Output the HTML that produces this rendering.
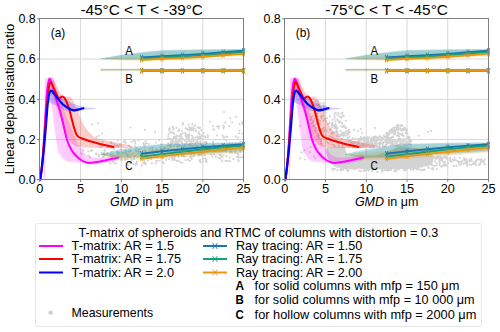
<!DOCTYPE html>
<html><head><meta charset="utf-8"><style>html,body{margin:0;padding:0;background:#fff;width:500px;height:332px;overflow:hidden}svg{display:block}</style></head>
<body>
<svg width="500" height="332" viewBox="0 0 500 332" font-family="Liberation Sans, sans-serif" fill="#000">
<rect width="500" height="332" fill="#fff"/>
<line x1="80.48" y1="18.5" x2="80.48" y2="179.5" stroke="#d9d9d9" stroke-width="1"/>
<line x1="121.26" y1="18.5" x2="121.26" y2="179.5" stroke="#d9d9d9" stroke-width="1"/>
<line x1="162.04" y1="18.5" x2="162.04" y2="179.5" stroke="#d9d9d9" stroke-width="1"/>
<line x1="202.82" y1="18.5" x2="202.82" y2="179.5" stroke="#d9d9d9" stroke-width="1"/>
<line x1="39.7" y1="139.55" x2="243.6" y2="139.55" stroke="#d9d9d9" stroke-width="1"/>
<line x1="39.7" y1="99.30" x2="243.6" y2="99.30" stroke="#d9d9d9" stroke-width="1"/>
<line x1="39.7" y1="59.05" x2="243.6" y2="59.05" stroke="#d9d9d9" stroke-width="1"/>
<path d="M164.7,155.0h0M232.2,152.6h0M172.6,155.7h0M126.4,153.8h0M190.1,160.8h0M113.0,161.2h0M193.5,156.4h0M104.3,152.6h0M163.0,162.1h0M174.2,157.0h0M171.5,157.6h0M165.4,148.0h0M220.2,158.7h0M209.6,151.0h0M221.1,150.7h0M230.2,152.7h0M240.2,150.9h0M110.4,156.7h0M211.3,147.7h0M237.9,160.0h0M214.0,145.4h0M180.0,152.2h0M127.3,159.3h0M118.7,157.1h0M116.7,151.5h0M238.8,161.1h0M143.5,163.1h0M130.1,150.9h0M222.2,157.0h0M210.5,149.2h0M112.9,155.6h0M134.8,156.0h0M153.2,152.3h0M237.2,153.1h0M182.2,162.7h0M229.9,161.4h0M128.1,164.8h0M226.2,156.1h0M134.1,158.6h0M136.7,161.6h0M185.3,148.3h0M125.1,159.0h0M180.0,162.3h0M187.8,148.0h0M231.2,146.1h0M125.2,150.2h0M151.8,163.3h0M240.2,157.4h0M198.8,155.6h0M103.0,156.9h0M169.0,159.3h0M110.8,154.7h0M205.4,158.6h0M150.3,158.1h0M159.7,160.8h0M223.5,155.3h0M189.4,150.6h0M183.3,156.2h0M111.5,157.0h0M204.1,150.7h0M205.1,155.5h0M163.0,162.0h0M112.0,159.8h0M104.3,156.0h0M199.9,153.4h0M143.0,158.0h0M229.5,157.5h0M163.2,163.3h0M146.8,157.6h0M128.4,151.8h0M225.9,150.6h0M183.4,148.9h0M119.5,153.4h0M164.4,147.9h0M130.6,151.3h0M189.5,153.3h0M145.1,162.0h0M240.4,152.3h0M201.3,155.3h0M144.2,160.8h0M218.6,146.9h0M190.0,152.2h0M190.1,157.4h0M197.9,146.0h0M101.5,152.8h0M202.1,145.5h0M138.9,149.6h0M199.7,154.0h0M187.9,159.9h0M156.3,160.8h0M229.6,143.2h0M233.4,159.1h0M118.6,152.3h0M153.9,155.2h0M225.7,160.9h0M235.0,152.6h0M193.1,146.1h0M203.2,161.5h0M191.8,158.9h0M130.5,163.5h0M176.8,160.8h0M145.8,163.7h0M222.4,149.7h0M111.8,152.0h0M178.7,160.2h0M214.4,145.3h0M147.9,160.7h0M173.9,159.1h0M220.1,158.2h0M235.2,153.3h0M235.7,143.2h0M131.7,154.2h0M141.5,159.2h0M191.4,154.1h0M220.6,155.0h0M144.6,150.5h0M129.8,162.3h0M238.5,154.1h0M181.9,146.0h0M176.6,153.6h0M238.6,153.9h0M157.3,161.0h0M180.5,153.3h0M177.0,151.3h0M138.5,152.8h0M118.2,151.8h0M168.1,148.9h0M127.4,156.4h0M232.3,144.2h0M198.2,149.1h0M150.8,156.5h0M115.0,159.3h0M117.6,153.8h0M175.8,151.9h0M153.7,151.3h0M129.2,156.8h0M191.3,154.2h0M221.7,156.3h0M222.5,146.8h0M205.9,161.3h0M229.1,148.9h0M145.0,164.1h0M226.9,144.3h0M134.2,159.2h0M219.0,151.5h0M213.0,144.2h0M157.6,158.1h0M238.5,143.9h0M172.3,160.0h0M171.9,158.1h0M178.9,153.9h0M232.5,143.4h0M166.1,160.1h0M146.7,152.7h0M173.7,151.8h0M200.2,162.1h0M125.9,152.3h0M205.7,151.1h0M227.7,161.0h0M200.8,162.5h0M190.0,151.1h0M185.7,153.6h0M136.9,163.8h0M206.5,160.4h0M216.5,151.1h0M199.4,160.2h0M209.4,151.1h0M148.9,152.7h0M191.3,156.6h0M133.2,164.6h0M195.3,149.4h0M194.3,155.2h0M176.2,150.7h0M243.0,157.1h0M200.3,160.0h0M240.2,141.6h0M188.0,159.5h0M136.7,151.0h0M135.9,163.6h0M178.7,153.7h0M238.3,155.2h0M242.3,157.0h0M185.4,160.0h0M122.9,152.8h0M124.2,153.4h0M235.2,151.5h0M175.3,155.9h0M152.3,148.1h0M193.7,155.0h0M140.5,158.9h0M122.4,159.9h0M155.8,163.4h0M110.5,163.6h0M161.4,152.9h0M239.2,147.1h0M203.4,152.7h0M189.3,152.4h0M163.3,157.7h0M165.1,147.6h0M183.3,151.5h0M211.2,154.3h0M205.0,147.0h0M116.3,163.3h0M212.2,156.6h0M198.0,155.1h0M184.6,156.8h0M207.7,145.7h0M135.6,165.5h0M138.7,151.6h0M112.4,157.9h0M178.7,156.8h0M153.4,153.0h0M130.1,149.6h0M206.5,162.0h0M215.7,156.6h0M209.9,146.3h0M160.7,147.5h0M215.8,150.2h0M146.5,154.7h0M161.2,150.2h0M113.9,162.9h0M180.7,153.1h0M198.0,148.5h0M130.5,157.6h0M203.7,158.3h0M151.2,159.1h0M201.4,155.2h0M230.6,151.9h0M214.8,148.6h0M145.4,151.0h0M135.5,150.0h0M152.3,150.1h0M156.6,150.7h0M127.9,155.1h0M214.0,154.5h0M219.6,155.1h0M125.3,160.0h0M226.0,148.0h0M103.2,153.9h0M177.8,155.2h0M238.2,157.3h0M178.2,160.7h0M112.1,156.9h0M120.6,159.6h0M192.8,147.1h0M131.5,160.1h0M174.6,160.1h0M156.4,149.4h0M238.5,157.8h0M170.6,154.4h0M203.1,158.7h0M230.8,151.3h0M218.2,157.7h0M222.1,161.1h0M237.0,157.0h0M174.9,158.8h0M214.7,151.5h0M129.2,151.6h0M141.8,165.2h0M116.4,157.2h0M197.8,127.3h0M168.6,134.0h0M189.9,144.8h0M173.6,128.2h0M175.7,140.2h0M190.4,128.4h0M173.6,129.7h0M173.1,141.2h0M178.8,136.2h0M199.5,134.5h0M176.7,144.3h0M188.4,146.0h0M185.8,128.3h0M198.9,132.2h0M187.6,135.4h0M177.3,146.8h0M193.0,128.7h0M181.2,142.1h0M195.2,137.5h0M172.4,126.8h0M179.2,129.2h0M201.6,135.4h0M192.1,146.8h0M176.9,135.8h0M172.2,141.5h0M200.7,142.7h0M169.4,129.5h0M195.4,125.3h0M185.7,134.2h0M205.2,137.1h0M201.2,130.3h0M198.4,133.0h0M199.9,128.0h0M188.3,135.6h0M172.5,143.0h0M178.8,130.5h0M169.1,130.3h0M185.2,140.2h0M180.7,139.5h0M170.3,132.5h0M184.9,146.2h0M200.0,138.7h0M195.1,128.7h0M189.1,134.0h0M198.8,128.0h0M191.3,130.0h0M181.4,136.0h0M178.2,131.1h0M182.1,139.0h0M176.5,127.8h0M196.0,130.9h0M204.7,136.5h0M195.7,131.0h0M193.8,140.0h0M173.4,132.7h0M200.3,137.2h0M169.7,128.4h0M182.7,124.7h0M203.7,133.2h0M187.0,138.5h0M197.4,142.7h0M181.8,131.0h0M182.9,123.4h0M182.4,139.8h0M206.3,142.0h0M193.1,137.6h0M180.0,138.6h0M170.4,132.1h0M186.9,141.9h0M199.8,137.7h0M172.5,141.4h0M203.0,136.2h0M180.5,135.0h0M171.8,140.1h0M195.3,143.1h0M174.1,145.7h0M191.7,127.7h0M169.4,128.9h0M189.6,139.7h0M179.5,145.3h0M180.8,134.1h0M171.1,146.4h0M171.6,144.7h0M188.3,136.5h0M189.0,129.3h0M203.3,146.8h0M199.5,137.4h0M171.0,142.8h0M177.8,144.5h0M175.9,136.8h0M200.1,127.5h0M188.5,124.8h0M193.0,130.4h0M193.5,140.7h0M181.6,137.2h0M174.2,134.2h0M171.9,132.3h0M189.4,127.2h0M187.3,129.3h0M189.3,131.0h0M192.3,123.9h0M193.5,126.5h0M205.3,137.4h0M185.3,132.9h0M191.6,139.5h0M197.1,141.0h0M185.9,146.9h0M200.4,143.5h0M182.8,133.4h0M189.2,144.7h0M189.1,141.3h0M185.0,145.9h0M180.1,135.7h0M197.9,145.8h0M198.2,142.2h0M199.1,138.7h0M192.1,135.8h0M171.5,140.4h0M188.1,139.8h0M168.3,143.3h0M189.2,137.9h0M179.5,139.7h0M176.4,135.8h0M206.1,146.6h0M195.3,145.4h0M184.5,144.7h0M175.8,144.0h0M190.9,145.8h0M170.3,144.5h0M171.4,141.5h0M207.8,135.0h0M176.7,138.6h0M180.3,135.8h0M205.4,144.8h0M183.5,139.3h0M191.8,135.6h0M167.4,145.8h0M179.5,141.0h0M207.1,146.7h0M186.8,137.5h0M179.0,146.1h0M205.5,137.3h0M202.9,139.2h0M186.8,137.1h0M204.7,146.9h0M174.9,142.6h0M174.4,145.6h0M168.2,136.3h0M197.9,138.8h0M205.6,145.4h0M197.4,136.6h0M196.6,146.3h0M185.6,135.9h0M175.8,138.7h0M197.3,137.4h0M174.0,137.8h0M195.2,144.5h0M182.4,142.9h0M204.9,142.1h0M176.1,138.6h0M206.8,143.0h0M178.2,142.7h0M170.0,146.8h0M185.4,141.3h0M189.4,135.5h0M192.4,138.4h0M177.0,144.6h0M169.8,138.4h0M199.2,138.0h0M178.3,141.6h0M174.2,145.8h0M186.3,144.0h0M182.9,146.2h0M188.0,137.2h0M190.5,142.7h0M181.8,142.9h0M200.5,141.2h0M188.2,145.1h0M196.1,141.2h0M207.9,137.1h0M200.3,137.0h0M192.8,137.8h0M185.4,144.3h0M200.6,144.5h0M176.4,140.9h0M175.7,142.0h0M188.0,135.4h0M192.3,143.6h0M191.2,145.5h0M173.9,136.8h0M185.1,140.3h0M177.6,144.6h0M169.2,145.9h0M191.0,141.5h0M200.8,137.9h0M172.4,138.7h0M167.9,138.8h0M193.3,141.3h0M177.6,142.1h0M169.9,144.8h0M217.3,126.4h0M217.0,135.5h0M237.8,137.5h0M213.9,129.6h0M223.3,125.5h0M242.1,121.9h0M227.2,137.0h0M242.6,124.0h0M226.1,136.6h0M213.2,126.1h0M239.6,124.0h0M224.2,127.3h0M225.2,122.6h0M213.1,141.9h0M235.7,136.4h0M219.1,126.3h0M229.1,126.1h0M226.3,140.6h0M223.3,128.1h0M242.4,133.8h0M213.2,129.5h0M232.1,122.2h0M222.6,135.6h0M238.8,133.4h0M239.5,130.7h0M224.2,138.7h0M223.8,137.4h0M218.7,128.3h0M111.9,146.6h0M110.7,142.4h0M113.9,145.6h0M120.1,145.4h0M164.6,148.2h0M156.1,142.5h0M124.9,140.9h0M144.9,144.4h0M117.8,140.2h0M111.8,143.1h0M125.5,151.1h0M146.5,143.2h0M123.5,141.8h0M160.9,144.3h0M149.8,148.7h0M159.0,140.2h0M120.9,144.6h0M105.4,150.6h0M121.1,149.2h0M133.8,140.7h0M125.6,142.9h0M102.7,141.8h0M138.7,140.4h0M120.3,145.1h0M135.4,141.6h0M135.3,143.6h0M136.3,147.7h0M114.0,148.1h0M120.3,144.9h0M143.3,143.3h0M114.6,144.4h0M101.2,147.3h0M148.8,144.0h0M110.8,147.9h0M143.4,143.3h0M131.6,141.9h0M121.4,144.9h0M116.4,146.0h0M120.1,145.8h0M108.3,147.7h0M117.1,145.2h0M107.5,146.8h0M135.1,146.5h0M119.6,144.6h0M102.7,146.0h0M129.3,145.7h0M144.6,146.7h0M113.1,147.7h0M109.3,145.7h0M118.1,146.8h0M131.4,147.2h0M120.5,145.2h0M113.8,149.3h0M144.0,144.8h0M145.5,141.4h0M80.8,153.1h0M88.3,151.6h0M83.3,150.3h0M104.2,150.3h0M91.9,150.4h0M96.2,154.5h0M98.6,154.2h0M99.1,156.3h0M116.7,151.3h0M89.9,156.9h0M88.5,155.2h0M104.9,154.9h0M81.9,154.2h0M96.1,153.6h0M90.9,150.9h0M107.2,153.3h0M130.5,127.5h0M145.0,130.0h0M155.0,132.0h0M209.7,121.8h0M92.2,124.4h0M97.8,123.3h0M102.3,133.5h0M96.7,136.9h0M99.0,135.7h0M224.0,112.0h0M230.0,118.0h0M236.0,117.0h0" stroke="#d3d3d3" stroke-width="2.1" stroke-linecap="round" fill="none"/>
<g transform="translate(39.7,0) scale(1.0,1) translate(-39.7,0)">
<path d="M44.00,179.40 C44.10,167.83 44.43,126.57 44.60,110.00 C44.77,93.43 44.68,85.28 45.00,80.00 C45.32,74.72 45.17,78.58 46.50,78.30 C47.83,78.02 51.50,77.35 53.00,78.30 C54.50,79.25 54.67,81.22 55.50,84.00 C56.33,86.78 56.58,90.67 58.00,95.00 C59.42,99.33 62.00,105.00 64.00,110.00 C66.00,115.00 67.73,119.50 70.00,125.00 C72.27,130.50 75.43,138.83 77.60,143.00 C79.77,147.17 81.43,147.92 83.00,150.00 C84.57,152.08 85.00,154.25 87.00,155.50 C89.00,156.75 91.68,157.25 95.00,157.50 C98.32,157.75 103.07,157.33 106.90,157.00 C110.73,156.67 116.15,155.00 118.00,155.50 C119.85,156.00 121.00,158.62 118.00,160.00 C115.00,161.38 104.67,163.13 100.00,163.80 C95.33,164.47 93.50,164.20 90.00,164.00 C86.50,163.80 82.67,163.02 79.00,162.60 C75.33,162.18 70.67,162.18 68.00,161.50 C65.33,160.82 64.42,159.92 63.00,158.50 C61.58,157.08 60.38,154.42 59.50,153.00 C58.62,151.58 58.90,157.17 57.70,150.00 C56.50,142.83 53.50,119.17 52.30,110.00 C51.10,100.83 51.13,99.00 50.50,95.00 C49.87,91.00 49.08,86.00 48.50,86.00 C47.92,86.00 47.42,87.67 47.00,95.00 C46.58,102.33 46.33,115.93 46.00,130.00 C45.67,144.07 45.17,171.17 45.00,179.40Z" fill="#ff00ff" fill-opacity="0.2"/>
<path d="M47.00,100.00 C47.42,96.42 48.50,82.00 49.50,78.50 C50.50,75.00 51.75,77.58 53.00,79.00 C54.25,80.42 55.67,84.58 57.00,87.00 C58.33,89.42 59.75,91.92 61.00,93.50 C62.25,95.08 63.00,95.95 64.50,96.50 C66.00,97.05 68.58,96.13 70.00,96.80 C71.42,97.47 72.00,98.87 73.00,100.50 C74.00,102.13 75.00,104.35 76.00,106.60 C77.00,108.85 78.00,111.50 79.00,114.00 C80.00,116.50 80.73,119.10 82.00,121.60 C83.27,124.10 84.60,126.48 86.60,129.00 C88.60,131.52 91.10,134.87 94.00,136.70 C96.90,138.53 99.88,138.95 104.00,140.00 C108.12,141.05 114.20,142.08 118.70,143.00 C123.20,143.92 128.95,144.75 131.00,145.50 C133.05,146.25 133.17,147.08 131.00,147.50 C128.83,147.92 123.17,147.92 118.00,148.00 C112.83,148.08 105.50,148.08 100.00,148.00 C94.50,147.92 89.17,147.83 85.00,147.50 C80.83,147.17 77.83,147.58 75.00,146.00 C72.17,144.42 70.17,142.00 68.00,138.00 C65.83,134.00 63.83,127.00 62.00,122.00 C60.17,117.00 58.50,112.50 57.00,108.00 C55.50,103.50 54.17,98.67 53.00,95.00 C51.83,91.33 50.75,86.00 50.00,86.00 C49.25,86.00 48.75,93.50 48.50,95.00Z" fill="#ff0000" fill-opacity="0.2"/>
<path d="M47.50,102.00 C47.92,99.67 49.08,90.08 50.00,88.00 C50.92,85.92 51.67,88.42 53.00,89.50 C54.33,90.58 55.83,92.75 58.00,94.50 C60.17,96.25 63.17,98.33 66.00,100.00 C68.83,101.67 71.83,103.30 75.00,104.50 C78.17,105.70 81.42,106.55 85.00,107.20 C88.58,107.85 96.50,107.97 96.50,108.40 C96.50,108.83 88.58,109.23 85.00,109.80 C81.42,110.37 78.00,111.60 75.00,111.80 C72.00,112.00 69.50,111.63 67.00,111.00 C64.50,110.37 62.17,109.08 60.00,108.00 C57.83,106.92 55.67,105.33 54.00,104.50 C52.33,103.67 50.67,103.25 50.00,103.00Z" fill="#0000ff" fill-opacity="0.2"/>
<path d="M40.50,179.40 C40.83,176.67 41.88,170.40 42.50,163.00 C43.12,155.60 43.68,143.50 44.20,135.00 C44.72,126.50 45.10,119.50 45.60,112.00 C46.10,104.50 46.60,95.42 47.20,90.00 C47.80,84.58 48.57,81.00 49.20,79.50 C49.83,78.00 50.28,79.42 51.00,81.00 C51.72,82.58 52.58,85.83 53.50,89.00 C54.42,92.17 55.42,96.33 56.50,100.00 C57.58,103.67 58.92,107.17 60.00,111.00 C61.08,114.83 61.92,118.50 63.00,123.00 C64.08,127.50 65.50,134.33 66.50,138.00 C67.50,141.67 68.17,143.00 69.00,145.00 C69.83,147.00 70.58,148.50 71.50,150.00 C72.42,151.50 73.25,152.58 74.50,154.00 C75.75,155.42 77.30,157.18 79.00,158.50 C80.70,159.82 82.82,161.15 84.70,161.90 C86.58,162.65 87.75,163.07 90.30,163.00 C92.85,162.93 95.38,162.38 100.00,161.50 C104.62,160.62 115.00,158.33 118.00,157.70" fill="none" stroke="#ff00ff" stroke-width="2" stroke-linejoin="round" stroke-linecap="round"/>
<path d="M40.40,179.40 C40.67,177.00 41.48,170.23 42.00,165.00 C42.52,159.77 42.75,156.83 43.50,148.00 C44.25,139.17 45.65,121.67 46.50,112.00 C47.35,102.33 47.98,94.93 48.60,90.00 C49.22,85.07 49.60,83.32 50.20,82.40 C50.80,81.48 51.32,82.90 52.20,84.50 C53.08,86.10 54.45,89.67 55.50,92.00 C56.55,94.33 57.62,97.62 58.50,98.50 C59.38,99.38 60.05,97.62 60.80,97.30 C61.55,96.98 62.22,96.23 63.00,96.60 C63.78,96.97 64.45,97.33 65.50,99.50 C66.55,101.67 68.30,106.52 69.30,109.60 C70.30,112.68 70.63,114.77 71.50,118.00 C72.37,121.23 73.48,125.97 74.50,129.00 C75.52,132.03 76.08,134.53 77.60,136.20 C79.12,137.87 81.77,138.25 83.60,139.00 C85.43,139.75 86.02,139.92 88.60,140.70 C91.18,141.48 94.97,142.65 99.10,143.70 C103.23,144.75 111.02,146.45 113.40,147.00" fill="none" stroke="#ff0000" stroke-width="2" stroke-linejoin="round" stroke-linecap="round"/>
<path d="M40.30,179.40 C40.58,177.17 41.42,170.90 42.00,166.00 C42.58,161.10 43.13,156.83 43.80,150.00 C44.47,143.17 45.37,132.50 46.00,125.00 C46.63,117.50 47.07,110.17 47.60,105.00 C48.13,99.83 48.63,96.42 49.20,94.00 C49.77,91.58 50.28,90.67 51.00,90.50 C51.72,90.33 52.50,91.83 53.50,93.00 C54.50,94.17 55.42,95.58 57.00,97.50 C58.58,99.42 60.78,102.53 63.00,104.50 C65.22,106.47 68.47,108.33 70.30,109.30 C72.13,110.27 72.72,110.25 74.00,110.30 C75.28,110.35 76.45,109.95 78.00,109.60 C79.55,109.25 82.42,108.43 83.30,108.20" fill="none" stroke="#0000ff" stroke-width="2.2" stroke-linejoin="round" stroke-linecap="round"/>
</g>
<g transform="translate(39.7,0) scale(1.0000,1) translate(-39.7,0)">
<path d="M100.6,58.5 L120.0,55.0 L140.0,52.3 L163.0,50.0 L200.0,49.3 L243.6,49.0 L243.6,53.4 L200.0,56.8 L163.0,58.8 L140.0,59.2 L120.0,59.2 L100.6,58.9Z" fill="#1a75b0" fill-opacity="0.24"/>
<path d="M100.6,58.6 L120.0,55.5 L140.0,53.0 L163.0,50.8 L200.0,50.0 L243.6,49.6 L243.6,54.2 L200.0,57.6 L163.0,59.4 L140.0,59.8 L120.0,59.6 L100.6,59.1Z" fill="#17a07a" fill-opacity="0.24"/>
<path d="M100.6,58.7 L120.0,57.6 L140.0,56.6 L163.0,55.4 L200.0,53.8 L243.6,52.2 L243.6,55.8 L200.0,58.8 L163.0,60.4 L140.0,60.6 L120.0,60.3 L100.6,59.3Z" fill="#e8960f" fill-opacity="0.24"/>
<path d="M100.6,68.8 L120.0,68.8 L140.0,68.8 L163.0,68.8 L200.0,68.8 L243.6,68.8 L243.6,70.3 L200.0,70.3 L163.0,70.3 L140.0,70.3 L120.0,70.3 L100.6,70.3Z" fill="#1a75b0" fill-opacity="0.25"/>
<path d="M100.6,68.9 L120.0,68.9 L140.0,68.9 L163.0,68.9 L200.0,68.9 L243.6,68.9 L243.6,70.4 L200.0,70.4 L163.0,70.4 L140.0,70.4 L120.0,70.4 L100.6,70.4Z" fill="#17a07a" fill-opacity="0.25"/>
<path d="M100.6,70.2 L120.0,70.2 L140.0,70.2 L163.0,70.2 L200.0,70.2 L243.6,70.2 L243.6,71.2 L200.0,71.2 L163.0,71.2 L140.0,71.2 L120.0,71.2 L100.6,71.2Z" fill="#e8960f" fill-opacity="0.25"/>
<path d="M100.6,154.0 L120.0,149.3 L140.0,146.0 L163.0,143.8 L200.0,142.8 L243.6,142.2 L243.6,150.5 L200.0,153.5 L163.0,155.5 L140.0,157.0 L120.0,157.5 L100.6,154.8Z" fill="#1a75b0" fill-opacity="0.22"/>
<path d="M100.6,154.1 L120.0,151.3 L140.0,147.2 L163.0,144.5 L200.0,143.6 L243.6,143.0 L243.6,151.5 L200.0,154.5 L163.0,156.5 L140.0,158.0 L120.0,158.5 L100.6,155.0Z" fill="#17a07a" fill-opacity="0.22"/>
<path d="M100.6,154.2 L120.0,154.0 L140.0,151.0 L163.0,148.5 L200.0,147.0 L243.6,145.8 L243.6,152.3 L200.0,156.0 L163.0,158.5 L140.0,159.5 L120.0,159.5 L100.6,155.2Z" fill="#e8960f" fill-opacity="0.22"/>
</g>
<polyline points="141.6,57.5 162.0,56.3 182.4,55.3 202.8,53.9 223.2,52.3 243.6,50.7" fill="none" stroke="#1a75b0" stroke-width="1.9"/>
<path d="M140.3,54.9 L142.9,60.1 M142.9,54.9 L140.3,60.1 M160.7,53.7 L163.3,58.9 M163.3,53.7 L160.7,58.9 M181.1,52.7 L183.7,57.9 M183.7,52.7 L181.1,57.9 M201.5,51.3 L204.1,56.5 M204.1,51.3 L201.5,56.5 M221.9,49.7 L224.5,54.9 M224.5,49.7 L221.9,54.9 M242.3,48.1 L244.9,53.3 M244.9,48.1 L242.3,53.3 " stroke="#1a75b0" stroke-width="0.8" fill="none"/>
<polyline points="141.6,58.8 162.0,57.5 182.4,56.5 202.8,55.1 223.2,53.5 243.6,52.1" fill="none" stroke="#17a07a" stroke-width="1.9"/>
<path d="M140.3,56.2 L142.9,61.4 M142.9,56.2 L140.3,61.4 M160.7,54.9 L163.3,60.1 M163.3,54.9 L160.7,60.1 M181.1,53.9 L183.7,59.1 M183.7,53.9 L181.1,59.1 M201.5,52.5 L204.1,57.7 M204.1,52.5 L201.5,57.7 M221.9,50.9 L224.5,56.1 M224.5,50.9 L221.9,56.1 M242.3,49.5 L244.9,54.7 M244.9,49.5 L242.3,54.7 " stroke="#17a07a" stroke-width="0.8" fill="none"/>
<polyline points="141.6,60.0 162.0,58.8 182.4,58.1 202.8,56.7 223.2,55.3 243.6,53.9" fill="none" stroke="#e8960f" stroke-width="1.9"/>
<path d="M140.3,57.4 L142.9,62.6 M142.9,57.4 L140.3,62.6 M160.7,56.2 L163.3,61.4 M163.3,56.2 L160.7,61.4 M181.1,55.5 L183.7,60.7 M183.7,55.5 L181.1,60.7 M201.5,54.1 L204.1,59.3 M204.1,54.1 L201.5,59.3 M221.9,52.7 L224.5,57.9 M224.5,52.7 L221.9,57.9 M242.3,51.3 L244.9,56.5 M244.9,51.3 L242.3,56.5 " stroke="#e8960f" stroke-width="0.8" fill="none"/>
<polyline points="141.6,70.7 162.0,70.7 182.4,70.7 202.8,70.7 223.2,70.7 243.6,70.7" fill="none" stroke="#1a75b0" stroke-width="1.9"/>
<path d="M140.3,68.1 L142.9,73.3 M142.9,68.1 L140.3,73.3 M160.7,68.1 L163.3,73.3 M163.3,68.1 L160.7,73.3 M181.1,68.1 L183.7,73.3 M183.7,68.1 L181.1,73.3 M201.5,68.1 L204.1,73.3 M204.1,68.1 L201.5,73.3 M221.9,68.1 L224.5,73.3 M224.5,68.1 L221.9,73.3 M242.3,68.1 L244.9,73.3 M244.9,68.1 L242.3,73.3 " stroke="#1a75b0" stroke-width="0.8" fill="none"/>
<polyline points="141.6,70.7 162.0,70.7 182.4,70.7 202.8,70.7 223.2,70.7 243.6,70.7" fill="none" stroke="#17a07a" stroke-width="1.9"/>
<path d="M140.3,68.1 L142.9,73.3 M142.9,68.1 L140.3,73.3 M160.7,68.1 L163.3,73.3 M163.3,68.1 L160.7,73.3 M181.1,68.1 L183.7,73.3 M183.7,68.1 L181.1,73.3 M201.5,68.1 L204.1,73.3 M204.1,68.1 L201.5,73.3 M221.9,68.1 L224.5,73.3 M224.5,68.1 L221.9,73.3 M242.3,68.1 L244.9,73.3 M244.9,68.1 L242.3,73.3 " stroke="#17a07a" stroke-width="0.8" fill="none"/>
<polyline points="141.6,70.7 162.0,70.7 182.4,70.7 202.8,70.7 223.2,70.7 243.6,70.7" fill="none" stroke="#e8960f" stroke-width="1.9"/>
<path d="M140.3,68.1 L142.9,73.3 M142.9,68.1 L140.3,73.3 M160.7,68.1 L163.3,73.3 M163.3,68.1 L160.7,73.3 M181.1,68.1 L183.7,73.3 M183.7,68.1 L181.1,73.3 M201.5,68.1 L204.1,73.3 M204.1,68.1 L201.5,73.3 M221.9,68.1 L224.5,73.3 M224.5,68.1 L221.9,73.3 M242.3,68.1 L244.9,73.3 M244.9,68.1 L242.3,73.3 " stroke="#e8960f" stroke-width="0.8" fill="none"/>
<polyline points="141.6,153.7 162.0,151.3 182.4,149.3 202.8,147.3 223.2,145.7 243.6,144.3" fill="none" stroke="#1a75b0" stroke-width="1.9"/>
<path d="M140.3,151.1 L142.9,156.3 M142.9,151.1 L140.3,156.3 M160.7,148.7 L163.3,153.9 M163.3,148.7 L160.7,153.9 M181.1,146.7 L183.7,151.9 M183.7,146.7 L181.1,151.9 M201.5,144.7 L204.1,149.9 M204.1,144.7 L201.5,149.9 M221.9,143.1 L224.5,148.3 M224.5,143.1 L221.9,148.3 M242.3,141.7 L244.9,146.9 M244.9,141.7 L242.3,146.9 " stroke="#1a75b0" stroke-width="0.8" fill="none"/>
<polyline points="141.6,156.6 162.0,154.1 182.4,151.7 202.8,149.3 223.2,147.3 243.6,145.5" fill="none" stroke="#17a07a" stroke-width="1.9"/>
<path d="M140.3,154.0 L142.9,159.2 M142.9,154.0 L140.3,159.2 M160.7,151.5 L163.3,156.7 M163.3,151.5 L160.7,156.7 M181.1,149.1 L183.7,154.3 M183.7,149.1 L181.1,154.3 M201.5,146.7 L204.1,151.9 M204.1,146.7 L201.5,151.9 M221.9,144.7 L224.5,149.9 M224.5,144.7 L221.9,149.9 M242.3,142.9 L244.9,148.1 M244.9,142.9 L242.3,148.1 " stroke="#17a07a" stroke-width="0.8" fill="none"/>
<polyline points="141.6,158.8 162.0,156.4 182.4,153.9 202.8,151.7 223.2,149.5 243.6,147.5" fill="none" stroke="#e8960f" stroke-width="1.9"/>
<path d="M140.3,156.2 L142.9,161.4 M142.9,156.2 L140.3,161.4 M160.7,153.8 L163.3,159.0 M163.3,153.8 L160.7,159.0 M181.1,151.3 L183.7,156.5 M183.7,151.3 L181.1,156.5 M201.5,149.1 L204.1,154.3 M204.1,149.1 L201.5,154.3 M221.9,146.9 L224.5,152.1 M224.5,146.9 L221.9,152.1 M242.3,144.9 L244.9,150.1 M244.9,144.9 L242.3,150.1 " stroke="#e8960f" stroke-width="0.8" fill="none"/>
<text x="125.3" y="54.7" font-size="12.2" text-anchor="start" font-weight="normal" font-style="normal" textLength="7.6" lengthAdjust="spacingAndGlyphs" >A</text>
<text x="125.3" y="83.0" font-size="12.2" text-anchor="start" font-weight="normal" font-style="normal" textLength="7.6" lengthAdjust="spacingAndGlyphs" >B</text>
<text x="125.3" y="169.8" font-size="12.2" text-anchor="start" font-weight="normal" font-style="normal" textLength="7.4" lengthAdjust="spacingAndGlyphs" >C</text>
<rect x="39.5" y="18.5" width="204" height="161.0" fill="none" stroke="#808080" stroke-width="1"/>
<line x1="39.70" y1="179.5" x2="39.70" y2="182.0" stroke="#808080" stroke-width="1"/>
<text x="39.7" y="193" font-size="12.2" text-anchor="middle" font-weight="normal" font-style="normal" textLength="7.1" lengthAdjust="spacingAndGlyphs" >0</text>
<line x1="80.48" y1="179.5" x2="80.48" y2="182.0" stroke="#808080" stroke-width="1"/>
<text x="80.5" y="193" font-size="12.2" text-anchor="middle" font-weight="normal" font-style="normal" textLength="7.1" lengthAdjust="spacingAndGlyphs" >5</text>
<line x1="121.26" y1="179.5" x2="121.26" y2="182.0" stroke="#808080" stroke-width="1"/>
<text x="121.3" y="193" font-size="12.2" text-anchor="middle" font-weight="normal" font-style="normal" textLength="14.1" lengthAdjust="spacingAndGlyphs" >10</text>
<line x1="162.04" y1="179.5" x2="162.04" y2="182.0" stroke="#808080" stroke-width="1"/>
<text x="162.0" y="193" font-size="12.2" text-anchor="middle" font-weight="normal" font-style="normal" textLength="14.1" lengthAdjust="spacingAndGlyphs" >15</text>
<line x1="202.82" y1="179.5" x2="202.82" y2="182.0" stroke="#808080" stroke-width="1"/>
<text x="202.8" y="193" font-size="12.2" text-anchor="middle" font-weight="normal" font-style="normal" textLength="14.1" lengthAdjust="spacingAndGlyphs" >20</text>
<line x1="243.60" y1="179.5" x2="243.60" y2="182.0" stroke="#808080" stroke-width="1"/>
<text x="243.6" y="193" font-size="12.2" text-anchor="middle" font-weight="normal" font-style="normal" textLength="14.1" lengthAdjust="spacingAndGlyphs" >25</text>
<line x1="37" y1="179.50" x2="39.5" y2="179.50" stroke="#808080" stroke-width="1"/>
<text x="35.7" y="184.1" font-size="12.2" text-anchor="end" font-weight="normal" font-style="normal" textLength="17.3" lengthAdjust="spacingAndGlyphs" >0.0</text>
<line x1="37" y1="139.55" x2="39.5" y2="139.55" stroke="#808080" stroke-width="1"/>
<text x="35.7" y="143.8" font-size="12.2" text-anchor="end" font-weight="normal" font-style="normal" textLength="17.3" lengthAdjust="spacingAndGlyphs" >0.2</text>
<line x1="37" y1="99.30" x2="39.5" y2="99.30" stroke="#808080" stroke-width="1"/>
<text x="35.7" y="103.6" font-size="12.2" text-anchor="end" font-weight="normal" font-style="normal" textLength="17.3" lengthAdjust="spacingAndGlyphs" >0.4</text>
<line x1="37" y1="59.05" x2="39.5" y2="59.05" stroke="#808080" stroke-width="1"/>
<text x="35.7" y="63.4" font-size="12.2" text-anchor="end" font-weight="normal" font-style="normal" textLength="17.3" lengthAdjust="spacingAndGlyphs" >0.6</text>
<line x1="37" y1="18.80" x2="39.5" y2="18.80" stroke="#808080" stroke-width="1"/>
<text x="35.7" y="23.1" font-size="12.2" text-anchor="end" font-weight="normal" font-style="normal" textLength="17.3" lengthAdjust="spacingAndGlyphs" >0.8</text>
<text x="141.7" y="14.8" font-size="14" text-anchor="middle" font-weight="normal" font-style="normal" textLength="122.5" lengthAdjust="spacingAndGlyphs" >-45°C &lt; T &lt; -39°C</text>
<text x="50.7" y="36.61250000000001" font-size="12.2" text-anchor="start" font-weight="normal" font-style="normal" textLength="14.5" lengthAdjust="spacingAndGlyphs" >(a)</text>
<text x="141.7" y="205.9" font-size="12.2" text-anchor="middle" textLength="63.4" lengthAdjust="spacingAndGlyphs"><tspan font-style="italic">GMD</tspan> in μm</text>
<line x1="325.54" y1="18.5" x2="325.54" y2="179.5" stroke="#d9d9d9" stroke-width="1"/>
<line x1="366.28" y1="18.5" x2="366.28" y2="179.5" stroke="#d9d9d9" stroke-width="1"/>
<line x1="407.02" y1="18.5" x2="407.02" y2="179.5" stroke="#d9d9d9" stroke-width="1"/>
<line x1="447.76" y1="18.5" x2="447.76" y2="179.5" stroke="#d9d9d9" stroke-width="1"/>
<line x1="284.8" y1="139.55" x2="488.5" y2="139.55" stroke="#d9d9d9" stroke-width="1"/>
<line x1="284.8" y1="99.30" x2="488.5" y2="99.30" stroke="#d9d9d9" stroke-width="1"/>
<line x1="284.8" y1="59.05" x2="488.5" y2="59.05" stroke="#d9d9d9" stroke-width="1"/>
<path d="M327.0,147.0 L345.0,147.0 L347.0,155.5 L375.0,155.5 L392.0,150.0 L400.0,146.0 L430.0,150.0 L434.0,158.0 L432.0,165.0 L420.0,167.5 L410.0,168.8 L380.0,169.3 L350.0,168.6 L336.0,167.5 L329.0,162.0 L326.0,152.0Z" fill="#d3d3d3"/>
<path d="M381.7,169.9h0M359.4,170.9h0M405.7,169.6h0M391.0,170.0h0M345.1,168.6h0M337.3,170.1h0M366.4,168.4h0M341.5,168.5h0M344.0,167.9h0M348.0,170.9h0M373.5,168.5h0M395.2,168.9h0M368.6,168.2h0M405.6,170.0h0M341.6,167.4h0M369.3,169.1h0M418.9,169.0h0M376.7,169.1h0M353.7,168.6h0M372.1,170.6h0M340.4,169.3h0M348.8,170.2h0M367.2,169.8h0M334.8,168.8h0M352.2,167.7h0M381.9,171.8h0M382.4,171.7h0M414.5,168.1h0M333.4,169.7h0M364.8,170.7h0M421.3,169.8h0M354.5,169.2h0M382.0,169.8h0M428.3,167.0h0M361.3,171.2h0M386.2,170.2h0M407.2,167.3h0M360.6,167.5h0M404.8,170.2h0M377.3,171.9h0M391.2,169.7h0M413.4,168.5h0M394.3,171.4h0M416.6,169.5h0M367.6,168.2h0M410.7,169.4h0M388.4,170.7h0M368.2,167.9h0M389.1,169.7h0M342.8,169.2h0M406.8,168.4h0M356.3,168.4h0M364.9,170.1h0M344.7,166.5h0M363.7,170.2h0M413.3,170.0h0M432.8,168.2h0M332.3,168.9h0M403.1,168.0h0M355.5,168.0h0M369.0,167.7h0M351.3,168.6h0M384.6,170.2h0M347.0,168.8h0M396.3,171.1h0M356.7,168.8h0M354.3,169.2h0M413.5,168.4h0M403.7,170.0h0M404.6,168.1h0M410.3,167.9h0M384.5,168.2h0M354.0,169.3h0M418.2,167.7h0M432.9,169.6h0M372.2,171.2h0M428.6,167.9h0M343.0,169.8h0M422.5,169.7h0M416.1,168.5h0M397.6,167.6h0M374.2,168.3h0M371.7,168.4h0M418.6,167.0h0M351.8,167.5h0M436.8,169.1h0M368.8,170.4h0M347.1,170.3h0M361.9,167.1h0M349.4,167.9h0M424.7,169.6h0M340.4,170.1h0M388.5,168.7h0M387.6,169.9h0M417.9,169.0h0M399.5,168.8h0M399.4,168.3h0M375.1,169.1h0M408.4,167.7h0M431.7,168.9h0M424.0,170.1h0M376.4,168.4h0M396.5,170.5h0M422.1,166.8h0M341.6,170.1h0M413.0,168.5h0M389.3,167.9h0M432.6,168.2h0M395.6,170.0h0M382.5,170.4h0M420.7,170.5h0M366.7,168.3h0M398.3,169.2h0M371.8,169.7h0M343.1,169.2h0M357.0,168.5h0M340.4,170.4h0M389.8,169.6h0M393.1,168.3h0M363.4,168.1h0M484.9,159.6h0M457.6,161.1h0M439.5,160.4h0M441.3,159.5h0M450.2,159.8h0M481.6,159.3h0M448.3,163.2h0M451.8,161.7h0M443.8,164.9h0M484.4,163.4h0M439.4,160.8h0M445.5,165.3h0M442.8,158.2h0M465.1,163.0h0M462.4,161.3h0M482.7,161.0h0M481.5,160.3h0M455.6,160.0h0M469.3,164.3h0M443.2,161.8h0M470.0,161.5h0M466.4,162.8h0M469.3,159.9h0M479.0,164.7h0M476.0,160.6h0M447.3,158.9h0M432.8,157.3h0M446.9,157.7h0M436.7,165.2h0M450.9,161.4h0M438.0,158.5h0M481.2,161.8h0M450.2,158.1h0M480.1,164.4h0M460.3,164.7h0M444.3,161.9h0M464.0,158.0h0M476.1,165.2h0M465.4,160.8h0M431.2,161.4h0M449.8,160.4h0M434.3,166.1h0M458.7,162.2h0M460.2,162.0h0M476.6,160.1h0M473.8,161.8h0M442.1,160.5h0M474.0,164.2h0M458.8,164.5h0M467.2,165.6h0M465.8,160.0h0M445.8,156.9h0M436.8,156.5h0M483.1,161.9h0M439.7,165.1h0M442.3,160.4h0M466.3,159.1h0M461.3,163.7h0M471.3,165.1h0M471.3,159.1h0M471.6,160.8h0M464.2,159.9h0M435.2,161.4h0M452.8,159.6h0M461.1,161.9h0M479.8,159.3h0M478.0,159.5h0M447.5,166.3h0M466.4,163.8h0M441.2,157.3h0M439.6,160.7h0M475.1,163.5h0M484.9,164.6h0M454.0,166.0h0M466.3,161.3h0M441.2,158.4h0M433.7,157.0h0M456.4,165.9h0M481.3,161.7h0M467.0,161.1h0M472.7,163.8h0M467.3,162.5h0M439.3,161.2h0M454.6,157.7h0M441.1,160.5h0M439.7,162.9h0M467.6,161.7h0M453.9,160.3h0M441.0,166.6h0M480.2,163.2h0M459.8,157.8h0M447.8,162.5h0M439.4,158.6h0M470.2,161.3h0M434.9,166.3h0M463.5,163.6h0M483.8,161.5h0M445.1,162.0h0M443.6,165.5h0M444.3,156.9h0M439.0,159.0h0M466.8,160.7h0M432.3,165.1h0M436.9,158.2h0M453.9,165.5h0M440.1,156.7h0M446.4,158.3h0M476.2,161.9h0M434.8,157.9h0M446.2,164.7h0M438.3,156.9h0M444.6,165.8h0M444.5,163.9h0M436.5,163.2h0M439.3,162.5h0M435.8,159.0h0M444.1,164.5h0M442.6,166.3h0M467.4,165.5h0M480.4,160.3h0M346.9,133.9h0M341.9,135.1h0M347.9,139.9h0M339.2,121.4h0M340.8,122.0h0M335.7,113.3h0M342.2,123.4h0M339.2,123.0h0M335.2,125.8h0M338.3,113.1h0M347.4,145.4h0M349.3,136.8h0M337.5,114.8h0M348.8,129.7h0M334.8,118.4h0M334.8,113.8h0M342.6,115.8h0M336.6,128.4h0M341.5,117.5h0M336.0,126.6h0M335.3,113.2h0M342.5,112.8h0M347.7,137.9h0M347.1,144.3h0M336.3,125.8h0M341.3,113.5h0M350.9,144.7h0M348.6,131.3h0M346.0,127.9h0M343.9,125.2h0M345.6,131.5h0M339.6,136.2h0M337.7,127.9h0M343.5,136.4h0M334.4,116.1h0M336.4,130.6h0M337.5,131.9h0M341.2,126.3h0M342.9,134.9h0M351.5,145.4h0M347.3,130.7h0M342.0,132.9h0M342.1,134.0h0M345.8,135.7h0M343.8,116.1h0M335.5,124.4h0M341.9,138.9h0M340.7,117.2h0M345.8,120.8h0M344.2,135.0h0M337.2,119.6h0M342.8,126.9h0M348.6,141.0h0M348.3,132.9h0M344.5,126.2h0M335.4,124.4h0M337.4,120.3h0M342.7,115.2h0M343.0,132.6h0M343.3,133.6h0M339.1,116.2h0M345.0,127.7h0M344.8,132.8h0M350.0,132.5h0M340.5,130.7h0M349.0,145.2h0M335.1,126.9h0M341.0,142.9h0M348.3,134.8h0M335.3,121.4h0M352.3,146.0h0M360.7,139.6h0M352.5,144.3h0M355.3,145.5h0M371.9,145.2h0M366.7,137.5h0M375.3,137.3h0M356.6,141.8h0M369.6,143.8h0M358.4,141.0h0M376.7,144.6h0M353.6,144.2h0M375.3,143.2h0M376.6,139.2h0M357.3,146.4h0M352.7,146.6h0M374.3,138.4h0M371.7,138.4h0M366.5,145.0h0M364.2,143.5h0M351.8,141.5h0M373.1,140.5h0M371.8,143.2h0M373.9,144.9h0M357.8,145.8h0M374.1,141.1h0M371.0,141.0h0M366.4,139.9h0M362.8,139.7h0M376.6,143.4h0M367.6,142.3h0M362.9,138.1h0M368.7,141.4h0M359.0,142.2h0M352.2,143.8h0M373.1,140.4h0M353.2,147.6h0M367.8,139.8h0M350.9,142.9h0M355.0,146.8h0M370.9,139.3h0M361.0,137.0h0M355.2,142.7h0M376.2,141.1h0M378.8,139.1h0M351.3,146.1h0M360.1,139.4h0M362.2,143.3h0M367.1,143.9h0M365.9,137.9h0M375.5,141.2h0M365.3,146.6h0M352.3,142.0h0M361.6,143.7h0M355.2,138.9h0M355.3,142.7h0M357.6,147.1h0M375.9,144.7h0M361.0,145.9h0M366.4,145.4h0M378.6,137.5h0M372.4,146.8h0M361.0,140.1h0M349.0,146.8h0M350.9,142.2h0M369.8,146.9h0M369.2,137.2h0M377.8,146.5h0M373.8,146.8h0M374.7,144.2h0M379.7,136.1h0M361.6,142.8h0M364.3,140.1h0M364.3,139.8h0M359.0,143.8h0M362.7,147.1h0M364.7,144.8h0M364.8,145.7h0M368.0,145.8h0M360.6,147.1h0M379.6,146.8h0M377.0,140.4h0M358.8,146.7h0M374.4,143.1h0M364.8,138.7h0M367.4,137.9h0M358.5,145.2h0M366.5,137.6h0M379.5,136.3h0M361.2,144.6h0M366.6,143.8h0M376.9,137.2h0M364.3,139.0h0M367.2,141.6h0M368.1,145.6h0M364.1,141.1h0M365.8,138.0h0M377.2,140.7h0M364.0,146.1h0M370.7,142.4h0M361.8,145.3h0M366.0,144.0h0M359.5,146.0h0M371.7,146.6h0M357.3,143.9h0M366.0,140.1h0M374.8,139.3h0M359.1,139.1h0M365.8,141.9h0M375.7,137.0h0M359.0,146.0h0M373.4,136.8h0M379.3,139.8h0M371.8,140.0h0M350.1,146.8h0M362.5,146.2h0M363.2,146.8h0M371.9,138.1h0M367.4,137.3h0M350.4,140.6h0M349.7,139.7h0M368.2,138.7h0M373.3,139.1h0M359.7,140.9h0M375.2,136.6h0M374.0,137.1h0M379.1,142.7h0M372.0,142.2h0M369.5,144.2h0M352.7,138.3h0M377.1,138.6h0M370.8,145.5h0M349.2,146.3h0M351.7,142.0h0M364.4,139.0h0M358.4,141.9h0M373.1,139.1h0M355.4,147.7h0M354.9,142.4h0M375.9,139.9h0M352.1,143.3h0M363.9,146.3h0M362.3,139.3h0M360.6,137.7h0M363.4,144.3h0M353.9,143.0h0M379.9,144.4h0M358.2,143.7h0M373.9,144.5h0M368.0,142.7h0M359.2,146.0h0M364.5,145.9h0M371.5,140.0h0M374.1,140.2h0M367.7,146.1h0M378.5,143.5h0M374.6,139.7h0M352.7,142.9h0M361.4,144.9h0M353.8,142.1h0M378.6,138.1h0M360.4,140.7h0M358.1,142.6h0M352.4,143.6h0M360.0,139.6h0M375.2,144.9h0M362.2,139.1h0M364.3,143.8h0M372.3,143.9h0M379.9,142.6h0M364.4,137.4h0M373.2,145.9h0M357.9,139.3h0M350.3,139.7h0M364.4,141.4h0M355.5,146.0h0M378.9,146.3h0M363.8,140.3h0M376.7,145.1h0M368.7,144.4h0M388.4,140.9h0M392.7,141.5h0M406.6,129.6h0M395.2,134.4h0M386.1,140.4h0M386.1,145.4h0M397.7,132.2h0M405.7,133.4h0M402.5,129.1h0M394.6,141.4h0M401.3,130.4h0M391.6,142.7h0M381.8,138.9h0M403.3,135.9h0M398.2,145.3h0M390.7,141.3h0M403.9,141.0h0M382.2,139.9h0M395.4,131.1h0M400.2,138.7h0M404.7,127.5h0M389.0,143.1h0M397.3,141.0h0M395.2,133.7h0M381.1,143.4h0M409.9,140.5h0M387.1,138.5h0M402.4,130.5h0M392.4,144.5h0M388.7,138.1h0M396.0,127.4h0M398.4,127.0h0M388.5,142.0h0M398.6,138.7h0M389.2,133.0h0M391.1,138.5h0M410.1,142.7h0M397.3,127.6h0M407.1,142.0h0M403.1,140.6h0M384.6,137.3h0M393.6,132.1h0M386.8,139.6h0M385.1,146.5h0M400.4,128.2h0M386.6,140.4h0M394.5,140.2h0M386.9,137.1h0M386.5,136.2h0M406.8,142.7h0M402.0,140.6h0M394.4,131.9h0M404.0,143.9h0M401.8,125.1h0M406.3,141.7h0M398.3,128.7h0M388.3,133.7h0M398.6,129.9h0M398.3,133.8h0M387.2,138.9h0M388.0,133.7h0M400.4,125.6h0M390.2,131.7h0M402.2,126.1h0M386.8,142.9h0M391.9,139.6h0M408.5,143.9h0M392.2,129.1h0M393.4,144.4h0M386.6,134.3h0M404.9,143.5h0M392.4,141.0h0M404.1,144.8h0M392.0,143.5h0M386.3,137.4h0M411.3,141.1h0M405.0,128.1h0M392.3,136.9h0M406.6,129.5h0M397.8,141.1h0M402.7,129.9h0M386.4,136.9h0M397.4,125.1h0M410.9,145.0h0M397.4,141.4h0M400.7,134.2h0M401.5,140.4h0M396.0,130.2h0M400.9,142.5h0M383.2,138.8h0M393.8,127.7h0M407.2,136.9h0M394.4,144.0h0M407.3,133.1h0M381.1,137.5h0M387.7,137.9h0M383.3,142.4h0M384.7,136.9h0M387.9,133.0h0M392.2,141.5h0M405.6,144.4h0M407.4,133.3h0M383.8,135.6h0M387.9,138.6h0M393.4,127.7h0M404.8,144.5h0M396.5,127.8h0M400.1,144.2h0M393.1,136.6h0M392.5,144.0h0M402.4,133.6h0M391.0,143.7h0M383.6,142.4h0M396.6,145.9h0M386.0,141.3h0M396.6,143.4h0M383.0,143.5h0M409.1,137.2h0M397.5,142.0h0M391.2,144.3h0M397.1,135.7h0M403.2,128.7h0M390.7,142.0h0M382.5,145.1h0M403.7,145.3h0M407.9,137.7h0M410.1,141.9h0M390.5,130.6h0M403.4,142.6h0M388.8,139.6h0M399.8,139.3h0M385.4,142.0h0M399.9,144.8h0M402.8,143.7h0M408.2,139.4h0M389.5,134.3h0M398.0,134.7h0M409.4,138.8h0M402.0,134.5h0M393.9,134.0h0M409.0,141.4h0M393.3,145.5h0M388.5,139.3h0M403.8,128.8h0M408.3,136.5h0M391.9,133.0h0M387.6,140.6h0M396.0,127.3h0M389.2,132.7h0M398.2,140.4h0M380.1,139.8h0M386.5,135.5h0M406.7,130.7h0M385.1,139.9h0M410.5,141.7h0M387.2,137.9h0M400.9,130.3h0M382.1,143.8h0M383.5,142.3h0M387.9,139.1h0M403.8,138.9h0M385.5,144.7h0M392.1,128.7h0M406.0,129.2h0M394.0,130.0h0M395.7,141.5h0M396.6,143.5h0M394.9,132.6h0M398.6,125.6h0M385.7,145.1h0M382.2,137.6h0M409.2,136.7h0M392.8,142.0h0M399.7,140.4h0M403.9,130.0h0M386.9,141.1h0M399.1,136.4h0M394.7,129.5h0M405.4,143.0h0M410.5,144.4h0M405.8,139.4h0M391.0,141.9h0M381.0,140.8h0M392.4,130.3h0M402.1,129.9h0M388.1,142.7h0M393.1,141.7h0M396.7,144.0h0M396.6,144.1h0M389.7,139.6h0M396.9,129.3h0M387.0,136.5h0M406.3,132.2h0M403.3,140.8h0M403.7,136.0h0M386.5,138.0h0M391.1,130.1h0M407.5,144.3h0M408.1,144.8h0M400.1,143.2h0M400.7,144.6h0M389.4,138.7h0M390.6,137.9h0M404.1,140.5h0M399.4,133.4h0M407.9,144.0h0M386.4,140.8h0M392.2,132.6h0M409.7,137.5h0M398.3,145.1h0M389.5,130.8h0M396.6,127.6h0M396.8,125.2h0M401.7,134.9h0M384.9,137.3h0M390.4,145.8h0M401.3,143.8h0M399.9,140.0h0M388.3,135.9h0M387.0,139.3h0M394.8,145.2h0M399.7,140.7h0M383.5,146.6h0M405.4,129.8h0M402.6,139.9h0M391.2,130.6h0M391.4,130.3h0M386.7,144.2h0M386.7,132.9h0M408.3,137.6h0M331.9,125.3h0M318.0,100.8h0M316.5,114.0h0M337.5,139.5h0M313.8,105.4h0M326.5,139.4h0M325.7,112.6h0M317.4,104.3h0M325.8,107.0h0M324.0,107.0h0M329.9,136.4h0M325.7,135.2h0M323.2,131.8h0M319.5,106.7h0M334.1,144.9h0M317.4,110.2h0M325.7,118.4h0M320.9,128.8h0M325.6,109.9h0M315.2,130.2h0M313.9,118.8h0M321.1,141.1h0M321.2,110.2h0M327.2,142.5h0M338.2,136.0h0M343.2,145.8h0M332.6,132.3h0M338.7,142.6h0M321.3,139.1h0M330.0,129.6h0M322.9,129.0h0M325.2,111.3h0M325.7,140.8h0M317.9,101.6h0M312.7,116.2h0M310.8,117.2h0M332.3,137.0h0M342.4,144.9h0M332.1,127.2h0M324.0,127.6h0M315.7,101.2h0M321.3,116.4h0M319.9,120.7h0M315.9,109.4h0M334.4,146.8h0M340.7,141.6h0M322.2,116.1h0M321.5,138.7h0M318.6,135.7h0M334.1,139.7h0M318.2,130.4h0M320.5,103.3h0M312.8,126.3h0M313.9,120.4h0M336.9,133.3h0M317.2,121.5h0M324.3,119.6h0M334.3,141.1h0M340.1,136.0h0M314.2,107.1h0M333.3,125.3h0M324.0,113.1h0M312.0,123.3h0M317.1,116.1h0M325.2,119.4h0M317.5,135.9h0M342.3,142.9h0M335.5,127.2h0M323.6,103.1h0M320.7,109.1h0M341.6,142.8h0M328.8,143.5h0M324.0,131.5h0M333.9,146.7h0M328.6,138.3h0M338.5,145.6h0M317.6,105.0h0M318.6,104.7h0M335.3,146.2h0M335.2,140.8h0M332.1,123.7h0M326.4,130.0h0M325.7,121.0h0M315.6,131.8h0M313.9,126.0h0M323.5,120.7h0M330.4,140.5h0M338.0,134.2h0M316.1,115.1h0M318.0,133.7h0M342.4,146.3h0M342.7,143.2h0M333.8,132.7h0M329.8,116.4h0M338.4,134.8h0M334.5,128.2h0M337.0,133.9h0M328.1,124.2h0M321.3,108.0h0M327.1,118.1h0M321.7,118.3h0M331.8,132.7h0M313.7,105.3h0M340.4,134.8h0M331.9,144.7h0M315.9,128.1h0M318.8,135.5h0M318.9,135.7h0M336.2,131.8h0M324.4,105.2h0M325.3,114.7h0M317.3,113.3h0M332.6,119.8h0M324.1,108.0h0M324.1,115.9h0M332.0,137.5h0M316.4,123.7h0M335.8,139.3h0M324.0,130.0h0M329.6,122.9h0M332.1,133.9h0M323.1,128.6h0M338.8,146.2h0M319.5,123.5h0M336.4,129.2h0M339.3,147.4h0M321.2,117.2h0M336.8,135.7h0M334.2,126.5h0M319.0,119.9h0M321.4,129.9h0M323.1,105.3h0M312.4,102.8h0M330.8,129.6h0M310.9,119.8h0M318.8,137.7h0M323.9,111.5h0M320.7,108.2h0M326.1,131.2h0M320.9,130.7h0M320.4,133.1h0M319.4,103.3h0M320.2,110.3h0M310.4,119.8h0M335.6,132.3h0M336.7,130.0h0M337.4,141.6h0M334.2,138.2h0M332.5,122.9h0M334.0,138.5h0M320.6,154.3h0M310.6,147.3h0M314.0,156.5h0M300.3,125.9h0M304.4,150.1h0M315.5,158.3h0M305.2,159.5h0M301.4,152.6h0M313.4,141.3h0M300.2,158.3h0M310.6,137.0h0M309.8,152.2h0M321.1,143.7h0M313.2,121.8h0M419.0,135.8h0M428.0,132.0h0M431.0,131.0h0M358.0,131.0h0M362.0,133.0h0M354.0,130.0h0M375.0,128.0h0M347.0,160.0h0M361.0,129.0h0" stroke="#d3d3d3" stroke-width="2.1" stroke-linecap="round" fill="none"/>
<g transform="translate(284.8,0) scale(0.9990191270230506,1) translate(-39.7,0)">
<path d="M44.00,179.40 C44.10,167.83 44.43,126.57 44.60,110.00 C44.77,93.43 44.68,85.28 45.00,80.00 C45.32,74.72 45.17,78.58 46.50,78.30 C47.83,78.02 51.50,77.35 53.00,78.30 C54.50,79.25 54.67,81.22 55.50,84.00 C56.33,86.78 56.58,90.67 58.00,95.00 C59.42,99.33 62.00,105.00 64.00,110.00 C66.00,115.00 67.73,119.50 70.00,125.00 C72.27,130.50 75.43,138.83 77.60,143.00 C79.77,147.17 81.43,147.92 83.00,150.00 C84.57,152.08 85.00,154.25 87.00,155.50 C89.00,156.75 91.68,157.25 95.00,157.50 C98.32,157.75 103.07,157.33 106.90,157.00 C110.73,156.67 116.15,155.00 118.00,155.50 C119.85,156.00 121.00,158.62 118.00,160.00 C115.00,161.38 104.67,163.13 100.00,163.80 C95.33,164.47 93.50,164.20 90.00,164.00 C86.50,163.80 82.67,163.02 79.00,162.60 C75.33,162.18 70.67,162.18 68.00,161.50 C65.33,160.82 64.42,159.92 63.00,158.50 C61.58,157.08 60.38,154.42 59.50,153.00 C58.62,151.58 58.90,157.17 57.70,150.00 C56.50,142.83 53.50,119.17 52.30,110.00 C51.10,100.83 51.13,99.00 50.50,95.00 C49.87,91.00 49.08,86.00 48.50,86.00 C47.92,86.00 47.42,87.67 47.00,95.00 C46.58,102.33 46.33,115.93 46.00,130.00 C45.67,144.07 45.17,171.17 45.00,179.40Z" fill="#ff00ff" fill-opacity="0.2"/>
<path d="M47.00,100.00 C47.42,96.42 48.50,82.00 49.50,78.50 C50.50,75.00 51.75,77.58 53.00,79.00 C54.25,80.42 55.67,84.58 57.00,87.00 C58.33,89.42 59.75,91.92 61.00,93.50 C62.25,95.08 63.00,95.95 64.50,96.50 C66.00,97.05 68.58,96.13 70.00,96.80 C71.42,97.47 72.00,98.87 73.00,100.50 C74.00,102.13 75.00,104.35 76.00,106.60 C77.00,108.85 78.00,111.50 79.00,114.00 C80.00,116.50 80.73,119.10 82.00,121.60 C83.27,124.10 84.60,126.48 86.60,129.00 C88.60,131.52 91.10,134.87 94.00,136.70 C96.90,138.53 99.88,138.95 104.00,140.00 C108.12,141.05 114.20,142.08 118.70,143.00 C123.20,143.92 128.95,144.75 131.00,145.50 C133.05,146.25 133.17,147.08 131.00,147.50 C128.83,147.92 123.17,147.92 118.00,148.00 C112.83,148.08 105.50,148.08 100.00,148.00 C94.50,147.92 89.17,147.83 85.00,147.50 C80.83,147.17 77.83,147.58 75.00,146.00 C72.17,144.42 70.17,142.00 68.00,138.00 C65.83,134.00 63.83,127.00 62.00,122.00 C60.17,117.00 58.50,112.50 57.00,108.00 C55.50,103.50 54.17,98.67 53.00,95.00 C51.83,91.33 50.75,86.00 50.00,86.00 C49.25,86.00 48.75,93.50 48.50,95.00Z" fill="#ff0000" fill-opacity="0.2"/>
<path d="M47.50,102.00 C47.92,99.67 49.08,90.08 50.00,88.00 C50.92,85.92 51.67,88.42 53.00,89.50 C54.33,90.58 55.83,92.75 58.00,94.50 C60.17,96.25 63.17,98.33 66.00,100.00 C68.83,101.67 71.83,103.30 75.00,104.50 C78.17,105.70 81.42,106.55 85.00,107.20 C88.58,107.85 96.50,107.97 96.50,108.40 C96.50,108.83 88.58,109.23 85.00,109.80 C81.42,110.37 78.00,111.60 75.00,111.80 C72.00,112.00 69.50,111.63 67.00,111.00 C64.50,110.37 62.17,109.08 60.00,108.00 C57.83,106.92 55.67,105.33 54.00,104.50 C52.33,103.67 50.67,103.25 50.00,103.00Z" fill="#0000ff" fill-opacity="0.2"/>
<path d="M40.50,179.40 C40.83,176.67 41.88,170.40 42.50,163.00 C43.12,155.60 43.68,143.50 44.20,135.00 C44.72,126.50 45.10,119.50 45.60,112.00 C46.10,104.50 46.60,95.42 47.20,90.00 C47.80,84.58 48.57,81.00 49.20,79.50 C49.83,78.00 50.28,79.42 51.00,81.00 C51.72,82.58 52.58,85.83 53.50,89.00 C54.42,92.17 55.42,96.33 56.50,100.00 C57.58,103.67 58.92,107.17 60.00,111.00 C61.08,114.83 61.92,118.50 63.00,123.00 C64.08,127.50 65.50,134.33 66.50,138.00 C67.50,141.67 68.17,143.00 69.00,145.00 C69.83,147.00 70.58,148.50 71.50,150.00 C72.42,151.50 73.25,152.58 74.50,154.00 C75.75,155.42 77.30,157.18 79.00,158.50 C80.70,159.82 82.82,161.15 84.70,161.90 C86.58,162.65 87.75,163.07 90.30,163.00 C92.85,162.93 95.38,162.38 100.00,161.50 C104.62,160.62 115.00,158.33 118.00,157.70" fill="none" stroke="#ff00ff" stroke-width="2" stroke-linejoin="round" stroke-linecap="round"/>
<path d="M40.40,179.40 C40.67,177.00 41.48,170.23 42.00,165.00 C42.52,159.77 42.75,156.83 43.50,148.00 C44.25,139.17 45.65,121.67 46.50,112.00 C47.35,102.33 47.98,94.93 48.60,90.00 C49.22,85.07 49.60,83.32 50.20,82.40 C50.80,81.48 51.32,82.90 52.20,84.50 C53.08,86.10 54.45,89.67 55.50,92.00 C56.55,94.33 57.62,97.62 58.50,98.50 C59.38,99.38 60.05,97.62 60.80,97.30 C61.55,96.98 62.22,96.23 63.00,96.60 C63.78,96.97 64.45,97.33 65.50,99.50 C66.55,101.67 68.30,106.52 69.30,109.60 C70.30,112.68 70.63,114.77 71.50,118.00 C72.37,121.23 73.48,125.97 74.50,129.00 C75.52,132.03 76.08,134.53 77.60,136.20 C79.12,137.87 81.77,138.25 83.60,139.00 C85.43,139.75 86.02,139.92 88.60,140.70 C91.18,141.48 94.97,142.65 99.10,143.70 C103.23,144.75 111.02,146.45 113.40,147.00" fill="none" stroke="#ff0000" stroke-width="2" stroke-linejoin="round" stroke-linecap="round"/>
<path d="M40.30,179.40 C40.58,177.17 41.42,170.90 42.00,166.00 C42.58,161.10 43.13,156.83 43.80,150.00 C44.47,143.17 45.37,132.50 46.00,125.00 C46.63,117.50 47.07,110.17 47.60,105.00 C48.13,99.83 48.63,96.42 49.20,94.00 C49.77,91.58 50.28,90.67 51.00,90.50 C51.72,90.33 52.50,91.83 53.50,93.00 C54.50,94.17 55.42,95.58 57.00,97.50 C58.58,99.42 60.78,102.53 63.00,104.50 C65.22,106.47 68.47,108.33 70.30,109.30 C72.13,110.27 72.72,110.25 74.00,110.30 C75.28,110.35 76.45,109.95 78.00,109.60 C79.55,109.25 82.42,108.43 83.30,108.20" fill="none" stroke="#0000ff" stroke-width="2.2" stroke-linejoin="round" stroke-linecap="round"/>
</g>
<g transform="translate(284.8,0) scale(0.9990,1) translate(-39.7,0)">
<path d="M100.6,58.5 L120.0,55.0 L140.0,52.3 L163.0,50.0 L200.0,49.3 L243.6,49.0 L243.6,53.4 L200.0,56.8 L163.0,58.8 L140.0,59.2 L120.0,59.2 L100.6,58.9Z" fill="#1a75b0" fill-opacity="0.24"/>
<path d="M100.6,58.6 L120.0,55.5 L140.0,53.0 L163.0,50.8 L200.0,50.0 L243.6,49.6 L243.6,54.2 L200.0,57.6 L163.0,59.4 L140.0,59.8 L120.0,59.6 L100.6,59.1Z" fill="#17a07a" fill-opacity="0.24"/>
<path d="M100.6,58.7 L120.0,57.6 L140.0,56.6 L163.0,55.4 L200.0,53.8 L243.6,52.2 L243.6,55.8 L200.0,58.8 L163.0,60.4 L140.0,60.6 L120.0,60.3 L100.6,59.3Z" fill="#e8960f" fill-opacity="0.24"/>
<path d="M100.6,68.8 L120.0,68.8 L140.0,68.8 L163.0,68.8 L200.0,68.8 L243.6,68.8 L243.6,70.3 L200.0,70.3 L163.0,70.3 L140.0,70.3 L120.0,70.3 L100.6,70.3Z" fill="#1a75b0" fill-opacity="0.25"/>
<path d="M100.6,68.9 L120.0,68.9 L140.0,68.9 L163.0,68.9 L200.0,68.9 L243.6,68.9 L243.6,70.4 L200.0,70.4 L163.0,70.4 L140.0,70.4 L120.0,70.4 L100.6,70.4Z" fill="#17a07a" fill-opacity="0.25"/>
<path d="M100.6,70.2 L120.0,70.2 L140.0,70.2 L163.0,70.2 L200.0,70.2 L243.6,70.2 L243.6,71.2 L200.0,71.2 L163.0,71.2 L140.0,71.2 L120.0,71.2 L100.6,71.2Z" fill="#e8960f" fill-opacity="0.25"/>
<path d="M100.6,154.0 L120.0,149.3 L140.0,146.0 L163.0,143.8 L200.0,142.8 L243.6,142.2 L243.6,150.5 L200.0,153.5 L163.0,155.5 L140.0,157.0 L120.0,157.5 L100.6,154.8Z" fill="#1a75b0" fill-opacity="0.22"/>
<path d="M100.6,154.1 L120.0,151.3 L140.0,147.2 L163.0,144.5 L200.0,143.6 L243.6,143.0 L243.6,151.5 L200.0,154.5 L163.0,156.5 L140.0,158.0 L120.0,158.5 L100.6,155.0Z" fill="#17a07a" fill-opacity="0.22"/>
<path d="M100.6,154.2 L120.0,154.0 L140.0,151.0 L163.0,148.5 L200.0,147.0 L243.6,145.8 L243.6,152.3 L200.0,156.0 L163.0,158.5 L140.0,159.5 L120.0,159.5 L100.6,155.2Z" fill="#e8960f" fill-opacity="0.22"/>
</g>
<polyline points="386.6,57.5 407.0,56.3 427.4,55.3 447.8,53.9 468.1,52.3 488.5,50.7" fill="none" stroke="#1a75b0" stroke-width="1.9"/>
<path d="M385.3,54.9 L387.9,60.1 M387.9,54.9 L385.3,60.1 M405.7,53.7 L408.3,58.9 M408.3,53.7 L405.7,58.9 M426.1,52.7 L428.7,57.9 M428.7,52.7 L426.1,57.9 M446.5,51.3 L449.1,56.5 M449.1,51.3 L446.5,56.5 M466.8,49.7 L469.4,54.9 M469.4,49.7 L466.8,54.9 M487.2,48.1 L489.8,53.3 M489.8,48.1 L487.2,53.3 " stroke="#1a75b0" stroke-width="0.8" fill="none"/>
<polyline points="386.6,58.8 407.0,57.5 427.4,56.5 447.8,55.1 468.1,53.5 488.5,52.1" fill="none" stroke="#17a07a" stroke-width="1.9"/>
<path d="M385.3,56.2 L387.9,61.4 M387.9,56.2 L385.3,61.4 M405.7,54.9 L408.3,60.1 M408.3,54.9 L405.7,60.1 M426.1,53.9 L428.7,59.1 M428.7,53.9 L426.1,59.1 M446.5,52.5 L449.1,57.7 M449.1,52.5 L446.5,57.7 M466.8,50.9 L469.4,56.1 M469.4,50.9 L466.8,56.1 M487.2,49.5 L489.8,54.7 M489.8,49.5 L487.2,54.7 " stroke="#17a07a" stroke-width="0.8" fill="none"/>
<polyline points="386.6,60.0 407.0,58.8 427.4,58.1 447.8,56.7 468.1,55.3 488.5,53.9" fill="none" stroke="#e8960f" stroke-width="1.9"/>
<path d="M385.3,57.4 L387.9,62.6 M387.9,57.4 L385.3,62.6 M405.7,56.2 L408.3,61.4 M408.3,56.2 L405.7,61.4 M426.1,55.5 L428.7,60.7 M428.7,55.5 L426.1,60.7 M446.5,54.1 L449.1,59.3 M449.1,54.1 L446.5,59.3 M466.8,52.7 L469.4,57.9 M469.4,52.7 L466.8,57.9 M487.2,51.3 L489.8,56.5 M489.8,51.3 L487.2,56.5 " stroke="#e8960f" stroke-width="0.8" fill="none"/>
<polyline points="386.6,70.7 407.0,70.7 427.4,70.7 447.8,70.7 468.1,70.7 488.5,70.7" fill="none" stroke="#1a75b0" stroke-width="1.9"/>
<path d="M385.3,68.1 L387.9,73.3 M387.9,68.1 L385.3,73.3 M405.7,68.1 L408.3,73.3 M408.3,68.1 L405.7,73.3 M426.1,68.1 L428.7,73.3 M428.7,68.1 L426.1,73.3 M446.5,68.1 L449.1,73.3 M449.1,68.1 L446.5,73.3 M466.8,68.1 L469.4,73.3 M469.4,68.1 L466.8,73.3 M487.2,68.1 L489.8,73.3 M489.8,68.1 L487.2,73.3 " stroke="#1a75b0" stroke-width="0.8" fill="none"/>
<polyline points="386.6,70.7 407.0,70.7 427.4,70.7 447.8,70.7 468.1,70.7 488.5,70.7" fill="none" stroke="#17a07a" stroke-width="1.9"/>
<path d="M385.3,68.1 L387.9,73.3 M387.9,68.1 L385.3,73.3 M405.7,68.1 L408.3,73.3 M408.3,68.1 L405.7,73.3 M426.1,68.1 L428.7,73.3 M428.7,68.1 L426.1,73.3 M446.5,68.1 L449.1,73.3 M449.1,68.1 L446.5,73.3 M466.8,68.1 L469.4,73.3 M469.4,68.1 L466.8,73.3 M487.2,68.1 L489.8,73.3 M489.8,68.1 L487.2,73.3 " stroke="#17a07a" stroke-width="0.8" fill="none"/>
<polyline points="386.6,70.7 407.0,70.7 427.4,70.7 447.8,70.7 468.1,70.7 488.5,70.7" fill="none" stroke="#e8960f" stroke-width="1.9"/>
<path d="M385.3,68.1 L387.9,73.3 M387.9,68.1 L385.3,73.3 M405.7,68.1 L408.3,73.3 M408.3,68.1 L405.7,73.3 M426.1,68.1 L428.7,73.3 M428.7,68.1 L426.1,73.3 M446.5,68.1 L449.1,73.3 M449.1,68.1 L446.5,73.3 M466.8,68.1 L469.4,73.3 M469.4,68.1 L466.8,73.3 M487.2,68.1 L489.8,73.3 M489.8,68.1 L487.2,73.3 " stroke="#e8960f" stroke-width="0.8" fill="none"/>
<polyline points="386.6,153.7 407.0,151.3 427.4,149.3 447.8,147.3 468.1,145.7 488.5,144.3" fill="none" stroke="#1a75b0" stroke-width="1.9"/>
<path d="M385.3,151.1 L387.9,156.3 M387.9,151.1 L385.3,156.3 M405.7,148.7 L408.3,153.9 M408.3,148.7 L405.7,153.9 M426.1,146.7 L428.7,151.9 M428.7,146.7 L426.1,151.9 M446.5,144.7 L449.1,149.9 M449.1,144.7 L446.5,149.9 M466.8,143.1 L469.4,148.3 M469.4,143.1 L466.8,148.3 M487.2,141.7 L489.8,146.9 M489.8,141.7 L487.2,146.9 " stroke="#1a75b0" stroke-width="0.8" fill="none"/>
<polyline points="386.6,156.6 407.0,154.1 427.4,151.7 447.8,149.3 468.1,147.3 488.5,145.5" fill="none" stroke="#17a07a" stroke-width="1.9"/>
<path d="M385.3,154.0 L387.9,159.2 M387.9,154.0 L385.3,159.2 M405.7,151.5 L408.3,156.7 M408.3,151.5 L405.7,156.7 M426.1,149.1 L428.7,154.3 M428.7,149.1 L426.1,154.3 M446.5,146.7 L449.1,151.9 M449.1,146.7 L446.5,151.9 M466.8,144.7 L469.4,149.9 M469.4,144.7 L466.8,149.9 M487.2,142.9 L489.8,148.1 M489.8,142.9 L487.2,148.1 " stroke="#17a07a" stroke-width="0.8" fill="none"/>
<polyline points="386.6,158.8 407.0,156.4 427.4,153.9 447.8,151.7 468.1,149.5 488.5,147.5" fill="none" stroke="#e8960f" stroke-width="1.9"/>
<path d="M385.3,156.2 L387.9,161.4 M387.9,156.2 L385.3,161.4 M405.7,153.8 L408.3,159.0 M408.3,153.8 L405.7,159.0 M426.1,151.3 L428.7,156.5 M428.7,151.3 L426.1,156.5 M446.5,149.1 L449.1,154.3 M449.1,149.1 L446.5,154.3 M466.8,146.9 L469.4,152.1 M469.4,146.9 L466.8,152.1 M487.2,144.9 L489.8,150.1 M489.8,144.9 L487.2,150.1 " stroke="#e8960f" stroke-width="0.8" fill="none"/>
<text x="370.4" y="54.7" font-size="12.2" text-anchor="start" font-weight="normal" font-style="normal" textLength="7.6" lengthAdjust="spacingAndGlyphs" >A</text>
<text x="370.4" y="83.0" font-size="12.2" text-anchor="start" font-weight="normal" font-style="normal" textLength="7.6" lengthAdjust="spacingAndGlyphs" >B</text>
<text x="370.4" y="169.8" font-size="12.2" text-anchor="start" font-weight="normal" font-style="normal" textLength="7.4" lengthAdjust="spacingAndGlyphs" >C</text>
<rect x="284.5" y="18.5" width="204" height="161.0" fill="none" stroke="#808080" stroke-width="1"/>
<line x1="284.80" y1="179.5" x2="284.80" y2="182.0" stroke="#808080" stroke-width="1"/>
<text x="284.8" y="193" font-size="12.2" text-anchor="middle" font-weight="normal" font-style="normal" textLength="7.1" lengthAdjust="spacingAndGlyphs" >0</text>
<line x1="325.54" y1="179.5" x2="325.54" y2="182.0" stroke="#808080" stroke-width="1"/>
<text x="325.5" y="193" font-size="12.2" text-anchor="middle" font-weight="normal" font-style="normal" textLength="7.1" lengthAdjust="spacingAndGlyphs" >5</text>
<line x1="366.28" y1="179.5" x2="366.28" y2="182.0" stroke="#808080" stroke-width="1"/>
<text x="366.3" y="193" font-size="12.2" text-anchor="middle" font-weight="normal" font-style="normal" textLength="14.1" lengthAdjust="spacingAndGlyphs" >10</text>
<line x1="407.02" y1="179.5" x2="407.02" y2="182.0" stroke="#808080" stroke-width="1"/>
<text x="407.0" y="193" font-size="12.2" text-anchor="middle" font-weight="normal" font-style="normal" textLength="14.1" lengthAdjust="spacingAndGlyphs" >15</text>
<line x1="447.76" y1="179.5" x2="447.76" y2="182.0" stroke="#808080" stroke-width="1"/>
<text x="447.8" y="193" font-size="12.2" text-anchor="middle" font-weight="normal" font-style="normal" textLength="14.1" lengthAdjust="spacingAndGlyphs" >20</text>
<line x1="488.50" y1="179.5" x2="488.50" y2="182.0" stroke="#808080" stroke-width="1"/>
<text x="488.5" y="193" font-size="12.2" text-anchor="middle" font-weight="normal" font-style="normal" textLength="14.1" lengthAdjust="spacingAndGlyphs" >25</text>
<line x1="282" y1="179.50" x2="284.5" y2="179.50" stroke="#808080" stroke-width="1"/>
<text x="280.8" y="184.1" font-size="12.2" text-anchor="end" font-weight="normal" font-style="normal" textLength="17.3" lengthAdjust="spacingAndGlyphs" >0.0</text>
<line x1="282" y1="139.55" x2="284.5" y2="139.55" stroke="#808080" stroke-width="1"/>
<text x="280.8" y="143.8" font-size="12.2" text-anchor="end" font-weight="normal" font-style="normal" textLength="17.3" lengthAdjust="spacingAndGlyphs" >0.2</text>
<line x1="282" y1="99.30" x2="284.5" y2="99.30" stroke="#808080" stroke-width="1"/>
<text x="280.8" y="103.6" font-size="12.2" text-anchor="end" font-weight="normal" font-style="normal" textLength="17.3" lengthAdjust="spacingAndGlyphs" >0.4</text>
<line x1="282" y1="59.05" x2="284.5" y2="59.05" stroke="#808080" stroke-width="1"/>
<text x="280.8" y="63.4" font-size="12.2" text-anchor="end" font-weight="normal" font-style="normal" textLength="17.3" lengthAdjust="spacingAndGlyphs" >0.6</text>
<line x1="282" y1="18.80" x2="284.5" y2="18.80" stroke="#808080" stroke-width="1"/>
<text x="280.8" y="23.1" font-size="12.2" text-anchor="end" font-weight="normal" font-style="normal" textLength="17.3" lengthAdjust="spacingAndGlyphs" >0.8</text>
<text x="386.6" y="14.8" font-size="14" text-anchor="middle" font-weight="normal" font-style="normal" textLength="122.5" lengthAdjust="spacingAndGlyphs" >-75°C &lt; T &lt; -45°C</text>
<text x="295.8" y="36.61250000000001" font-size="12.2" text-anchor="start" font-weight="normal" font-style="normal" textLength="14.5" lengthAdjust="spacingAndGlyphs" >(b)</text>
<text x="386.6" y="205.9" font-size="12.2" text-anchor="middle" textLength="63.4" lengthAdjust="spacingAndGlyphs"><tspan font-style="italic">GMD</tspan> in μm</text>
<text transform="translate(13.8,99) rotate(-90)" x="0" y="0" font-size="12.2" text-anchor="middle" textLength="150.3" lengthAdjust="spacingAndGlyphs">Linear depolarisation ratio</text>
<rect x="35.5" y="223.5" width="446" height="103" rx="2" ry="2" fill="#fff" stroke="#e6e6e6" stroke-width="1"/>
<text x="78.6" y="237" font-size="12.2" text-anchor="start" font-weight="normal" font-style="normal" textLength="359.8" lengthAdjust="spacingAndGlyphs" >T-matrix of spheroids and RTMC of columns with distortion = 0.3</text>
<line x1="39" y1="246" x2="63" y2="246" stroke="#ff00ff" stroke-width="2"/>
<text x="71.6" y="250" font-size="12.2" text-anchor="start" font-weight="normal" font-style="normal" textLength="102.4" lengthAdjust="spacingAndGlyphs" >T-matrix: AR = 1.5</text>
<line x1="39" y1="259" x2="63" y2="259" stroke="#ff0000" stroke-width="2"/>
<text x="71.6" y="263" font-size="12.2" text-anchor="start" font-weight="normal" font-style="normal" textLength="109.6" lengthAdjust="spacingAndGlyphs" >T-matrix: AR = 1.75</text>
<line x1="39" y1="272.5" x2="63" y2="272.5" stroke="#0000ff" stroke-width="2"/>
<text x="71.6" y="276.5" font-size="12.2" text-anchor="start" font-weight="normal" font-style="normal" textLength="102.4" lengthAdjust="spacingAndGlyphs" >T-matrix: AR = 2.0</text>
<line x1="203" y1="246" x2="227" y2="246" stroke="#1a75b0" stroke-width="2"/>
<path d="M212.5,243 L217.5,249 M217.5,243 L212.5,249" stroke="#1a75b0" stroke-width="0.9"/>
<text x="236" y="250" font-size="12.2" text-anchor="start" font-weight="normal" font-style="normal" textLength="126.3" lengthAdjust="spacingAndGlyphs" >Ray tracing: AR = 1.50</text>
<line x1="203" y1="259" x2="227" y2="259" stroke="#17a07a" stroke-width="2"/>
<path d="M212.5,256 L217.5,262 M217.5,256 L212.5,262" stroke="#17a07a" stroke-width="0.9"/>
<text x="236" y="263" font-size="12.2" text-anchor="start" font-weight="normal" font-style="normal" textLength="126.3" lengthAdjust="spacingAndGlyphs" >Ray tracing: AR = 1.75</text>
<line x1="203" y1="272.5" x2="227" y2="272.5" stroke="#e8960f" stroke-width="2"/>
<path d="M212.5,269.5 L217.5,275.5 M217.5,269.5 L212.5,275.5" stroke="#e8960f" stroke-width="0.9"/>
<text x="236" y="276.5" font-size="12.2" text-anchor="start" font-weight="normal" font-style="normal" textLength="126.3" lengthAdjust="spacingAndGlyphs" >Ray tracing: AR = 2.00</text>
<text x="235.4" y="290" font-size="12.2" text-anchor="start" font-weight="bold" font-style="normal" textLength="8.6" lengthAdjust="spacingAndGlyphs" >A</text>
<text x="235.4" y="304" font-size="12.2" text-anchor="start" font-weight="bold" font-style="normal" textLength="8.3" lengthAdjust="spacingAndGlyphs" >B</text>
<text x="235.4" y="318.5" font-size="12.2" text-anchor="start" font-weight="bold" font-style="normal" textLength="8.3" lengthAdjust="spacingAndGlyphs" >C</text>
<text x="254.6" y="290" font-size="12.2" text-anchor="start" font-weight="normal" font-style="normal" textLength="204.79999999999998" lengthAdjust="spacingAndGlyphs" >for solid columns with mfp = 150 μm</text>
<text x="254.6" y="304" font-size="12.2" text-anchor="start" font-weight="normal" font-style="normal" textLength="220.00000000000003" lengthAdjust="spacingAndGlyphs" >for solid columns with mfp = 10 000 μm</text>
<text x="254.6" y="318.5" font-size="12.2" text-anchor="start" font-weight="normal" font-style="normal" textLength="221.79999999999998" lengthAdjust="spacingAndGlyphs" >for hollow columns with mfp = 2000 μm</text>
<circle cx="50.6" cy="312.6" r="2.2" fill="#cccccc"/>
<text x="71.6" y="316.6" font-size="12.2" text-anchor="start" font-weight="normal" font-style="normal" textLength="81.6" lengthAdjust="spacingAndGlyphs" >Measurements</text>
</svg>
</body></html>
